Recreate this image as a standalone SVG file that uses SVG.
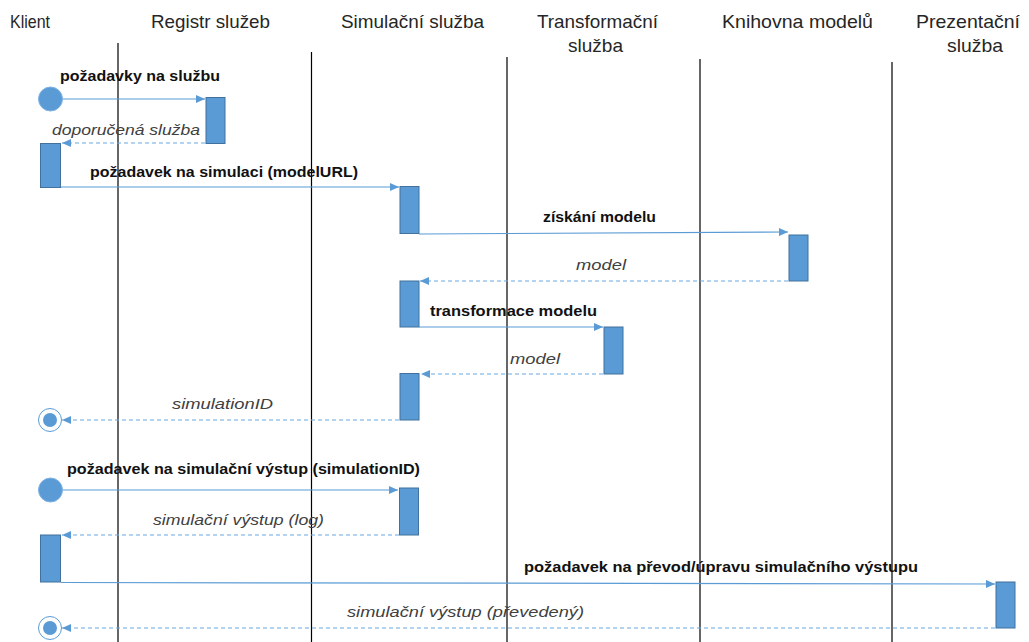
<svg xmlns="http://www.w3.org/2000/svg" width="1029" height="642" viewBox="0 0 1029 642">
  <style>
    .hdr { font-family: "Liberation Sans", "Noto Sans", sans-serif; font-size: 18.5px; fill: #262626; }
    .msg { font-family: "Liberation Sans", "Noto Sans", sans-serif; font-size: 15px; font-weight: bold; fill: #111; }
    .ret { font-family: "Liberation Sans", "Noto Sans", sans-serif; font-size: 15.5px; font-style: italic; fill: #404040; }
    .life { stroke: #000; stroke-width: 1.2; }
    .bar { fill: #5b9bd5; stroke: #41719c; stroke-width: 1; }
    .call { stroke: #5b9bd5; stroke-width: 1.2; fill: none; marker-end: url(#head); }
    .reply { stroke: #6aa8e0; stroke-width: 1.2; fill: none; stroke-dasharray: 4 3; marker-end: url(#head); }
    .start { fill: #5b9bd5; stroke: #7fb2e3; stroke-width: 1; }
    .endring { fill: #fff; stroke: #5b9bd5; stroke-width: 1; }
    .enddot { fill: #5b9bd5; }
  </style>
  <defs>
    <marker id="head" markerUnits="userSpaceOnUse" markerWidth="10" markerHeight="8" refX="9" refY="4" orient="auto">
      <path d="M0,0 L9,4 L0,8 Z" fill="#5b9bd5"/>
    </marker>
  </defs>

  <rect width="1029" height="642" fill="#fff"/>

  <!-- lifeline headers -->
  <g id="klient">
    <text class="hdr" x="10" y="28" textLength="40" lengthAdjust="spacingAndGlyphs">Klient</text>
    <line class="life" x1="118" y1="43" x2="118" y2="642"/>
  </g>
  <g id="registr">
    <text class="hdr" x="151" y="28" textLength="119" lengthAdjust="spacingAndGlyphs">Registr služeb</text>
    <line class="life" x1="311.5" y1="52" x2="311.5" y2="642"/>
  </g>
  <g id="simulace">
    <text class="hdr" x="341" y="28" textLength="143" lengthAdjust="spacingAndGlyphs">Simulační služba</text>
    <line class="life" x1="507" y1="57" x2="507" y2="642"/>
  </g>
  <g id="transformace">
    <text class="hdr" x="537" y="28" textLength="121" lengthAdjust="spacingAndGlyphs">Transformační</text>
    <text class="hdr" x="568" y="52" textLength="55" lengthAdjust="spacingAndGlyphs">služba</text>
    <line class="life" x1="700" y1="59" x2="700" y2="642"/>
  </g>
  <g id="knihovna">
    <text class="hdr" x="722" y="28" textLength="151" lengthAdjust="spacingAndGlyphs">Knihovna modelů</text>
    <line class="life" x1="892" y1="62" x2="892" y2="642"/>
  </g>
  <g id="prezentace">
    <text class="hdr" x="916" y="28" textLength="104" lengthAdjust="spacingAndGlyphs">Prezentační</text>
    <text class="hdr" x="947" y="52" textLength="56" lengthAdjust="spacingAndGlyphs">služba</text>
  </g>

  <!-- activation bars -->
  <g id="activations">
    <rect class="bar" x="206" y="97.5" width="19" height="46"/>
    <rect class="bar" x="40.5" y="143.5" width="20" height="44"/>
    <rect class="bar" x="400" y="186.5" width="19" height="47"/>
    <rect class="bar" x="789" y="235" width="19" height="46"/>
    <rect class="bar" x="400" y="281" width="19" height="46"/>
    <rect class="bar" x="604" y="327" width="19" height="47"/>
    <rect class="bar" x="400" y="373.5" width="19" height="46.5"/>
    <rect class="bar" x="399.5" y="488" width="19" height="47"/>
    <rect class="bar" x="40.5" y="535" width="20" height="47"/>
    <rect class="bar" x="996" y="582" width="19" height="46"/>
  </g>

  <!-- initial and final states -->
  <g id="states">
    <circle class="start" cx="50.5" cy="99" r="12"/>
    <circle class="endring" cx="50" cy="420" r="11.5"/>
    <circle class="enddot" cx="50" cy="420" r="7"/>
    <circle class="start" cx="50.5" cy="490" r="12"/>
    <circle class="endring" cx="50" cy="628" r="11.5"/>
    <circle class="enddot" cx="50" cy="628" r="7"/>
  </g>

  <!-- messages -->
  <g id="connectors">
    <line class="call" x1="63" y1="99" x2="205" y2="99"/>
    <line class="reply" x1="205" y1="143" x2="62" y2="143"/>
    <line class="call" x1="61" y1="187" x2="399" y2="187"/>
    <line class="call" x1="419" y1="234" x2="788" y2="232"/>
    <line class="reply" x1="788" y1="281" x2="420" y2="281"/>
    <line class="call" x1="419" y1="327" x2="603" y2="327"/>
    <line class="reply" x1="603" y1="374" x2="421" y2="374"/>
    <line class="reply" x1="399" y1="420" x2="62" y2="420"/>
    <line class="call" x1="63" y1="490" x2="398" y2="490"/>
    <line class="reply" x1="399" y1="535" x2="62" y2="535"/>
    <line class="call" x1="61" y1="582.5" x2="995" y2="584"/>
    <line class="reply" x1="995" y1="628" x2="62" y2="628"/>
  </g>

  <!-- message labels -->
  <g id="labels">
    <text class="msg" x="60" y="81" textLength="160" lengthAdjust="spacingAndGlyphs">požadavky na službu</text>
    <text class="ret" x="52" y="135" textLength="148" lengthAdjust="spacingAndGlyphs">doporučená služba</text>
    <text class="msg" x="90" y="177" textLength="268" lengthAdjust="spacingAndGlyphs">požadavek na simulaci (modelURL)</text>
    <text class="msg" x="543" y="222" textLength="113" lengthAdjust="spacingAndGlyphs">získání modelu</text>
    <text class="ret" x="576" y="270" textLength="50" lengthAdjust="spacingAndGlyphs">model</text>
    <text class="msg" x="430" y="316" textLength="167" lengthAdjust="spacingAndGlyphs">transformace modelu</text>
    <text class="ret" x="510" y="364" textLength="50" lengthAdjust="spacingAndGlyphs">model</text>
    <text class="ret" x="172" y="409" textLength="101" lengthAdjust="spacingAndGlyphs">simulationID</text>
    <text class="msg" x="67" y="474" textLength="353" lengthAdjust="spacingAndGlyphs">požadavek na simulační výstup (simulationID)</text>
    <text class="ret" x="153" y="525" textLength="171" lengthAdjust="spacingAndGlyphs">simulační výstup (log)</text>
    <text class="msg" x="524" y="572" textLength="394" lengthAdjust="spacingAndGlyphs">požadavek na převod/úpravu simulačního výstupu</text>
    <text class="ret" x="347" y="617" textLength="237" lengthAdjust="spacingAndGlyphs">simulační výstup (převedený)</text>
  </g>
</svg>
